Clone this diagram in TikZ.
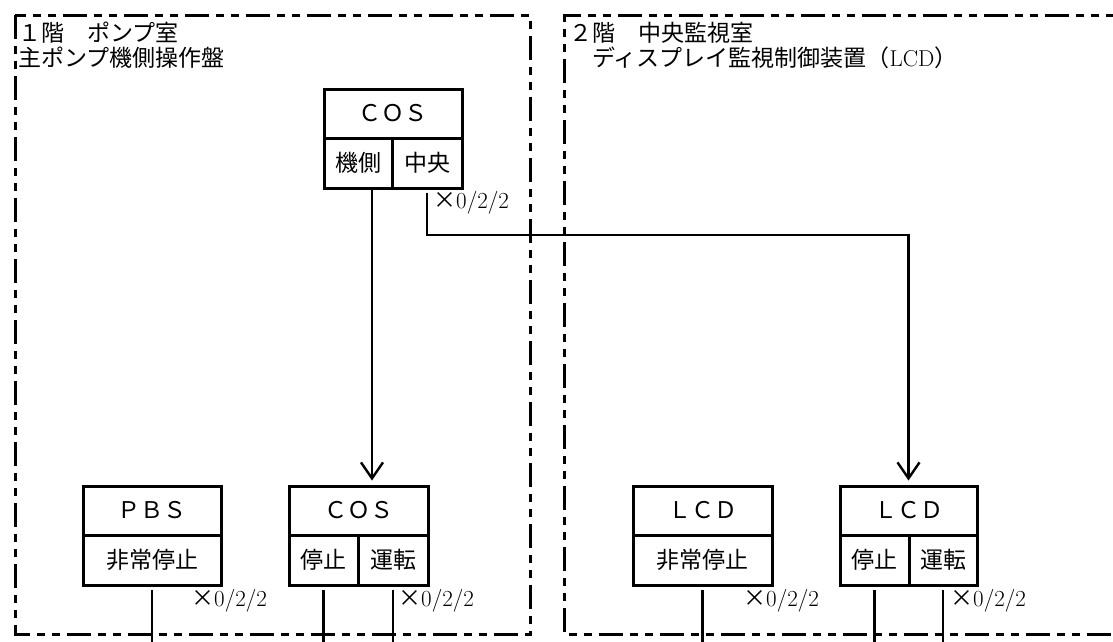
\documentclass[tikz,border=0pt]{standalone}
\usepackage{fontspec}
\newfontfamily\jp{Noto Sans CJK JP}
\newcommand\jpf{\jp\fontsize{23}{22}\selectfont}
\newcommand\roomf{\jp\fontsize{23}{25}\selectfont}
\usetikzlibrary{arrows.meta}

\begin{document}
\begin{tikzpicture}[x=1pt, y=-1pt, >={Straight Barb[length=16pt,width=22pt]},
    frame/.style={line width=3pt, dash pattern=on 24pt off 7pt on 8pt off 7pt on 8pt off 7pt},
    cell/.style={draw, line width=3pt, inner sep=0pt, font=\jpf, minimum height=49pt},
    wire/.style={line width=2.4pt},
    tag/.style={anchor=west, inner sep=0pt, font=\jpf},
    room/.style={anchor=north west, inner sep=0pt, align=left, font=\roomf}]
    \clip (0,0) rectangle (1113,641);

    % 部屋の枠
    \draw[frame] (15,15) rectangle (530,634);
    \draw[frame] (1130,15) -- (564,15) -- (564,634) -- (1130,634);
    \node[room] (pumplbl) at (18,22) {１階　ポンプ室\\主ポンプ機側操作盤};
    \node[room] (monlbl) at (569,22) {２階　中央監視室\\　ディスプレイ監視制御装置（{\rmfamily LCD}）};

    % 機側操作盤 COS
    \node[cell, minimum width=138pt] (cosa) at (393,113.5) {ＣＯＳ};
    \node[cell, minimum width=68pt, minimum height=50pt] (kiso) at (358,163) {機側};
    \node[cell, minimum width=70pt, minimum height=50pt] (chuo) at (427,163) {中央};
    \node[tag] (tcosa) at (433,203) {×{\rmfamily 0/2/2}};

    % 下段 PBS, COS
    \node[cell, minimum width=138pt] (pbs) at (152,510.5) {ＰＢＳ};
    \node[cell, minimum width=138pt, minimum height=50pt] (pbsstop) at (152,560) {非常停止};
    \node[cell, minimum width=139pt] (cosb) at (358.5,510.5) {ＣＯＳ};
    \node[cell, minimum width=69pt, minimum height=50pt] (cosstop) at (323.5,560) {停止};
    \node[cell, minimum width=70pt, minimum height=50pt] (cosrun) at (393,560) {運転};

    % 下段 LCD
    \node[cell, minimum width=139pt] (lcda) at (702.5,510.5) {ＬＣＤ};
    \node[cell, minimum width=139pt, minimum height=50pt] (lcdstop) at (702.5,560) {非常停止};
    \node[cell, minimum width=137pt] (lcdb) at (908.5,510.5) {ＬＣＤ};
    \node[cell, minimum width=69pt, minimum height=50pt] (lcdbstop) at (874.5,560) {停止};
    \node[cell, minimum width=68pt, minimum height=50pt] (lcdbrun) at (943,560) {運転};

    % 信号線
    \coordinate (kisoout) at ([xshift=14pt]kiso.south);
    \coordinate (bend) at (0,235);
    \draw[wire,->,shorten >=4pt] (kisoout) -- (kisoout |- cosb.north);
    \draw[wire,->,shorten >=4pt] ([yshift=-3pt]chuo.south) -- (chuo.south |- bend) -| (lcdb.north);

    \draw[wire] ([yshift=-3pt]pbsstop.south) -- ++(0,60);
    \draw[wire] ([yshift=-3pt]cosstop.south) -- ++(0,60);
    \draw[wire] ([yshift=-3pt]cosrun.south) -- ++(0,60);
    \draw[wire] ([yshift=-3pt]lcdstop.south) -- ++(0,60);
    \draw[wire] ([yshift=-3pt]lcdbstop.south) -- ++(0,60);
    \draw[wire] ([yshift=-3pt]lcdbrun.south) -- ++(0,60);

    \node[tag] (tpbs) at (191,601) {×{\rmfamily 0/2/2}};
    \node[tag] (tcosb) at (398,601) {×{\rmfamily 0/2/2}};
    \node[tag] (tlcda) at (743,601) {×{\rmfamily 0/2/2}};
    \node[tag] (tlcdb) at (950,601) {×{\rmfamily 0/2/2}};
\end{tikzpicture}
\end{document}
